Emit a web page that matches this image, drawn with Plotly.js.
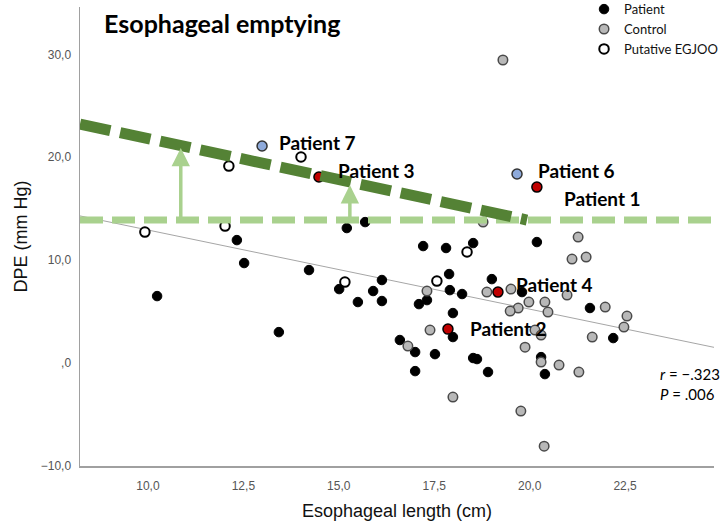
<!DOCTYPE html>
<html>
<head>
<meta charset="utf-8">
<script src="https://cdn.plot.ly/plotly-3.0.1.min.js"></script>
<style>html,body{margin:0;padding:0;background:#fff;}#chart{width:728px;height:526px;}</style>
</head>
<body>
<div id="chart"></div>
<script>
// ---- data ----
const patientX = [15.69, 15.21, 17.21, 17.81, 18.52, 20.19, 15.01, 16.13, 15.90, 15.50, 16.13, 17.89, 17.91, 18.23, 17.31, 17.10, 19.01, 19.80, 17.99, 21.58, 17.99, 22.19, 16.60, 17.00, 17.52, 18.52, 18.62, 20.30, 17.00, 18.91, 20.40, 12.33, 12.52, 14.22, 10.24, 13.43];
const patientY = [13.70, 13.12, 11.37, 11.18, 11.66, 11.76, 7.19, 8.07, 7.00, 5.93, 6.03, 8.65, 7.09, 6.71, 6.12, 5.73, 8.16, 6.90, 4.86, 5.35, 2.53, 2.43, 2.24, 1.07, 0.87, 0.49, 0.39, 0.58, -0.78, -0.87, -1.07, 11.95, 9.72, 9.04, 6.51, 3.01];

const controlX = [18.78, 21.27, 21.11, 21.48, 17.31, 18.88, 19.51, 19.98, 20.40, 20.98, 19.70, 19.49, 20.48, 21.98, 22.55, 22.47, 17.39, 20.14, 20.30, 21.64, 16.81, 19.88, 20.30, 20.77, 21.29, 17.99, 19.77, 20.38, 19.30];
const controlY = [13.70, 12.24, 10.11, 10.30, 7.00, 6.90, 7.19, 5.93, 5.93, 6.61, 5.35, 5.05, 4.96, 5.44, 4.57, 3.50, 3.21, 3.21, 2.72, 2.53, 1.65, 1.55, 0.10, -0.19, -0.87, -3.30, -4.66, -8.07, 29.45];

const egjooX = [9.92, 12.02, 12.12, 14.01, 18.36, 15.16, 17.57];
const egjooY = [12.73, 13.31, 19.14, 20.02, 10.79, 7.87, 7.97];

const redNames = ["Patient 1", "Patient 2", "Patient 3", "Patient 4"];
const redX = [20.19, 17.86, 14.48, 19.17];
const redY = [17.10, 3.30, 18.08, 6.90];

const blueNames = ["Patient 6", "Patient 7"];
const blueX = [19.67, 12.99];
const blueY = [18.37, 21.09];

const fitX = [8.22, 24.83];
const fitY = [14.30, 1.53];

const thresholdDPE = 13.9;
const upperLineX = [8.22, 19.93];
const upperLineY = [23.23, 13.90];

const arrowX = [10.86, 15.29];
const arrowTipY = [20.9, 17.3];

const xTickVals = [10, 12.5, 15, 17.5, 20, 22.5];
const xTickText = ["10,0", "12,5", "15,0", "17,5", "20,0", "22,5"];
const yTickVals = [30, 20, 10, 0, -10];
const yTickText = ["30,0", "20,0", "10,0", ",0", "\u221210,0"];

const statsText = ["<i>r</i> = \u2212.323", "<i>P</i> = .006"];

// ---- styling ----
const LAB = "Lato, 'Open Sans', sans-serif";
const ARIAL = "'Liberation Sans', Arial, sans-serif";
const DARK_GREEN = "#548235";
const LIGHT_GREEN = "#a9d18e";

// label offsets (px) for highlighted patients
const labelShift = {
  "Patient 1": [25, -11],
  "Patient 2": [20, 1],
  "Patient 3": [17, 7],
  "Patient 4": [16, 8],
  "Patient 6": [19, 4],
  "Patient 7": [15, 4]
};

const traces = [
  {x: fitX, y: fitY, mode: "lines", line: {color: "#a6a6a6", width: 1}, showlegend: false, hoverinfo: "skip"},
  {x: patientX, y: patientY, mode: "markers", name: "Patient",
   marker: {size: 9.5, color: "#000000", line: {color: "#000000", width: 1}}},
  {x: controlX, y: controlY, mode: "markers", name: "Control",
   marker: {size: 9.5, color: "#b8b8b8", line: {color: "#4a4a4a", width: 1.5}}},
  {x: egjooX, y: egjooY, mode: "markers", name: "Putative EGJOO",
   marker: {size: 9.5, color: "#ffffff", line: {color: "#000000", width: 2}}},
  {x: redX, y: redY, mode: "markers", showlegend: false, text: redNames,
   marker: {size: 10, color: "#c00000", line: {color: "#000000", width: 1.5}}},
  {x: blueX, y: blueY, mode: "markers", showlegend: false, text: blueNames,
   marker: {size: 10, color: "#8eaadb", line: {color: "#333333", width: 1.5}}}
];

const annotations = [];
function addLabels(names, xs, ys) {
  names.forEach((n, i) => {
    annotations.push({x: xs[i], y: ys[i], xref: "x", yref: "y", text: n, showarrow: false,
      xanchor: "left", yanchor: "middle", xshift: labelShift[n][0], yshift: labelShift[n][1],
      font: {family: LAB, size: 19, color: "#000", weight: "bold"}});
  });
}
addLabels(redNames, redX, redY);
addLabels(blueNames, blueX, blueY);

arrowX.forEach((ax, i) => {
  annotations.push({x: ax, y: arrowTipY[i], ax: ax, ay: thresholdDPE, xref: "x", yref: "y",
    axref: "x", ayref: "y", showarrow: true, arrowhead: 2, arrowsize: 1.05, arrowwidth: 3.5,
    arrowcolor: LIGHT_GREEN, standoff: 0, startstandoff: 0, text: ""});
});

annotations.push({x: 1.012, y: 0.1797, xref: "paper", yref: "paper",
  text: statsText.join("<br>"), showarrow: false, xanchor: "right", yanchor: "middle", align: "left",
  font: {family: LAB, size: 15, color: "#000"}});

const shapes = [
  {type: "line", xref: "paper", yref: "y", x0: 0, x1: 1.006, y0: thresholdDPE, y1: thresholdDPE,
   line: {color: LIGHT_GREEN, width: 7, dash: "23px,9px"}},
  {type: "line", xref: "x", yref: "y", x0: upperLineX[0], x1: upperLineX[1], y0: upperLineY[0], y1: upperLineY[1],
   line: {color: DARK_GREEN, width: 11, dash: "31px,10px"}}
];

const layout = {
  width: 728, height: 526,
  margin: {l: 80, r: 14, t: 7, b: 60, pad: 0, autoexpand: false},
  paper_bgcolor: "#ffffff", plot_bgcolor: "#ffffff",
  title: {text: "Esophageal emptying", x: 0.143, xanchor: "left", xref: "container",
    y: 0.953, yanchor: "middle", yref: "container",
    font: {family: LAB, size: 25, color: "#000", weight: "bold"}},
  xaxis: {range: [8.22, 24.83], showgrid: false, zeroline: false, showline: true,
    linecolor: "#a0a0a0", linewidth: 1.5, tickvals: xTickVals, ticktext: xTickText,
    ticks: "outside", ticklen: 8, tickcolor: "rgba(0,0,0,0)",
    tickfont: {family: ARIAL, size: 12, color: "#555"},
    title: {text: "Esophageal length (cm)", standoff: 12, font: {family: ARIAL, size: 18, color: "#111"}}},
  yaxis: {range: [-10, 34.6], showgrid: false, zeroline: false, showline: true,
    linecolor: "#a0a0a0", linewidth: 1.5, tickvals: yTickVals, ticktext: yTickText,
    ticks: "outside", ticklen: 5, tickcolor: "rgba(0,0,0,0)",
    tickfont: {family: ARIAL, size: 12, color: "#555"},
    title: {text: "DPE (mm Hg)", standoff: 8, font: {family: ARIAL, size: 18, color: "#111"}}},
  legend: {x: 0.795, y: 1.028, xanchor: "left", yanchor: "top", bgcolor: "rgba(0,0,0,0)",
    font: {family: LAB, size: 13, color: "#111"}, tracegroupgap: 0},
  showlegend: true,
  shapes: shapes,
  annotations: annotations
};

Plotly.newPlot("chart", traces, layout, {displayModeBar: false, staticPlot: true});
</script>
</body>
</html>
